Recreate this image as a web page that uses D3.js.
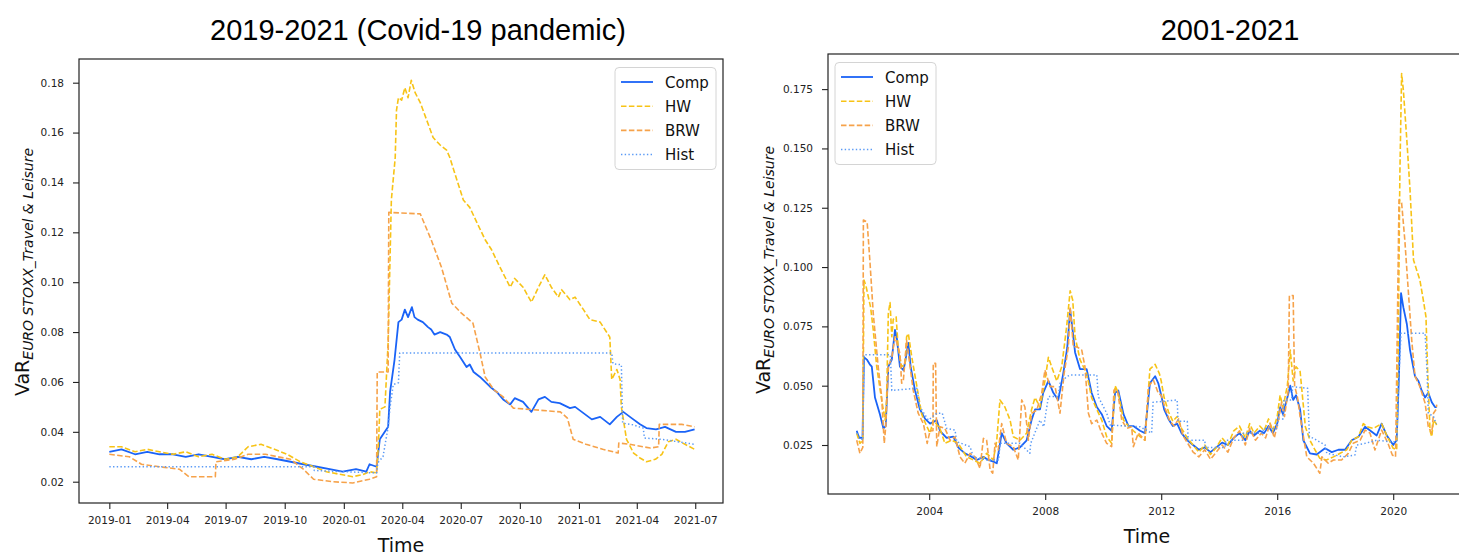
<!DOCTYPE html>
<html>
<head>
<meta charset="utf-8">
<script src="https://cdn.jsdelivr.net/npm/d3@7"></script>
<style>
  body { margin: 0; background: #fff; }
  text { font-family: "DejaVu Sans", sans-serif; }
</style>
</head>
<body>
<svg width="1459" height="555"></svg>
<script>
const seriesNames = ["Comp", "HW", "BRW", "Hist"];

// ---- 2019-2021 panel (dates, VaR) ----
const covidComp = [
  ["2019-01-01",0.032],["2019-01-20",0.033],["2019-02-10",0.031],["2019-03-01",0.032],["2019-03-20",0.031],
  ["2019-04-10",0.031],["2019-04-30",0.030],["2019-05-20",0.031],["2019-06-10",0.030],["2019-06-30",0.029],
  ["2019-07-20",0.030],["2019-08-10",0.029],["2019-08-30",0.030],["2019-09-20",0.029],["2019-10-10",0.028],
  ["2019-10-30",0.027],["2019-11-20",0.026],["2019-12-10",0.025],["2019-12-30",0.024],["2020-01-20",0.025],
  ["2020-02-05",0.024],["2020-02-10",0.027],["2020-02-21",0.026],["2020-02-26",0.037],["2020-03-10",0.042],
  ["2020-03-13",0.056],["2020-03-20",0.069],["2020-03-26",0.084],["2020-03-31",0.085],["2020-04-05",0.089],
  ["2020-04-10",0.086],["2020-04-16",0.090],["2020-04-20",0.086],["2020-04-25",0.085],["2020-05-03",0.084],
  ["2020-05-11",0.082],["2020-05-16",0.081],["2020-05-21",0.079],["2020-05-30",0.080],["2020-06-09",0.079],
  ["2020-06-14",0.078],["2020-06-22",0.073],["2020-06-30",0.070],["2020-07-10",0.066],["2020-07-15",0.067],
  ["2020-07-21",0.064],["2020-07-31",0.062],["2020-08-08",0.060],["2020-08-16",0.058],["2020-08-26",0.056],
  ["2020-09-05",0.053],["2020-09-16",0.051],["2020-09-23",0.0535],["2020-10-06",0.052],["2020-10-19",0.048],
  ["2020-10-30",0.053],["2020-11-09",0.054],["2020-11-19",0.052],["2020-12-02",0.0515],["2020-12-18",0.0495],
  ["2020-12-26",0.050],["2021-01-08",0.0475],["2021-01-21",0.045],["2021-02-03",0.046],["2021-02-18",0.043],
  ["2021-03-01",0.046],["2021-03-11",0.048],["2021-03-24",0.0455],["2021-04-06",0.043],["2021-04-16",0.0415],
  ["2021-05-01",0.041],["2021-05-15",0.042],["2021-06-01",0.040],["2021-06-15",0.040],["2021-06-30",0.041]
];
const covidHW = [
  ["2019-01-01",0.034],["2019-01-20",0.034],["2019-02-10",0.032],["2019-03-01",0.033],["2019-03-20",0.032],
  ["2019-04-10",0.031],["2019-04-30",0.032],["2019-05-20",0.030],["2019-06-10",0.031],["2019-06-30",0.029],
  ["2019-07-20",0.030],["2019-08-05",0.034],["2019-08-25",0.035],["2019-09-15",0.033],["2019-10-05",0.031],
  ["2019-10-25",0.028],["2019-11-15",0.026],["2019-12-05",0.024],["2019-12-25",0.023],["2020-01-15",0.022],
  ["2020-02-01",0.023],["2020-02-10",0.024],["2020-02-21",0.0235],["2020-02-24",0.0355],["2020-02-26",0.049],
  ["2020-03-05",0.050],["2020-03-10",0.076],["2020-03-15",0.133],["2020-03-21",0.150],["2020-03-23",0.169],
  ["2020-03-26",0.174],["2020-03-31",0.173],["2020-04-05",0.178],["2020-04-10",0.174],["2020-04-15",0.181],
  ["2020-04-21",0.176],["2020-04-29",0.172],["2020-05-09",0.165],["2020-05-19",0.158],["2020-05-30",0.155],
  ["2020-06-09",0.153],["2020-06-14",0.150],["2020-06-25",0.141],["2020-07-05",0.133],["2020-07-15",0.130],
  ["2020-07-26",0.124],["2020-08-08",0.117],["2020-08-18",0.113],["2020-08-31",0.106],["2020-09-16",0.098],
  ["2020-09-23",0.1015],["2020-10-06",0.098],["2020-10-19",0.092],["2020-10-30",0.098],["2020-11-09",0.103],
  ["2020-11-19",0.098],["2020-11-30",0.094],["2020-12-05",0.097],["2020-12-18",0.093],["2020-12-26",0.094],
  ["2021-01-08",0.089],["2021-01-18",0.085],["2021-02-03",0.084],["2021-02-18",0.078],["2021-02-21",0.061],
  ["2021-03-01",0.065],["2021-03-06",0.061],["2021-03-08",0.050],["2021-03-16",0.037],["2021-03-27",0.0315],
  ["2021-04-06",0.0295],["2021-04-16",0.028],["2021-04-30",0.029],["2021-05-10",0.031],["2021-05-20",0.036],
  ["2021-06-01",0.037],["2021-06-15",0.035],["2021-06-30",0.033]
];
const covidBRW = [
  ["2019-01-01",0.031],["2019-02-01",0.030],["2019-02-20",0.027],["2019-03-20",0.026],["2019-04-20",0.025],
  ["2019-05-05",0.022],["2019-06-15",0.022],["2019-06-16",0.028],["2019-07-15",0.029],["2019-08-05",0.031],
  ["2019-09-01",0.031],["2019-09-20",0.030],["2019-10-10",0.029],["2019-10-30",0.025],["2019-11-15",0.021],
  ["2019-12-15",0.020],["2020-01-15",0.0195],["2020-02-10",0.021],["2020-02-21",0.022],["2020-02-22",0.064],
  ["2020-03-10",0.064],["2020-03-11",0.128],["2020-04-29",0.1274],["2020-05-16",0.117],["2020-06-01",0.106],
  ["2020-06-17",0.0916],["2020-07-02",0.0876],["2020-07-20",0.0836],["2020-07-31",0.0716],["2020-08-08",0.062],
  ["2020-08-21",0.057],["2020-09-05",0.054],["2020-09-21",0.0495],["2020-12-03",0.048],["2020-12-14",0.0455],
  ["2020-12-23",0.037],["2021-01-12",0.035],["2021-02-07",0.033],["2021-03-03",0.0315],["2021-03-04",0.0355],
  ["2021-03-21",0.035],["2021-04-22",0.0335],["2021-05-05",0.034],["2021-05-06",0.043],["2021-06-10",0.043],
  ["2021-06-30",0.042]
];
const covidHist = [
  ["2019-01-01",0.026],["2019-11-15",0.026],["2019-11-16",0.0245],["2020-02-21",0.0235],["2020-02-23",0.0276],
  ["2020-03-02",0.030],["2020-03-10",0.042],["2020-03-13",0.050],["2020-03-18",0.059],["2020-03-26",0.0597],
  ["2020-03-28",0.0716],["2021-02-21",0.0716],["2021-02-23",0.0673],["2021-03-08",0.0669],["2021-03-10",0.0435],
  ["2021-03-26",0.0428],["2021-04-11",0.0415],["2021-04-13",0.0375],["2021-05-10",0.037],["2021-06-30",0.035]
];

// ---- 2001-2021 panel (decimal year, VaR) ----
const fullComp = [
  [2001.50,0.031],[2001.58,0.028],[2001.70,0.028],[2001.75,0.062],[2001.85,0.061],[2001.95,0.059],[2002.02,0.058],
  [2002.13,0.045],[2002.30,0.038],[2002.42,0.032],[2002.50,0.033],[2002.59,0.058],[2002.71,0.061],[2002.82,0.0735],
  [2002.88,0.0706],[2002.99,0.058],[2003.11,0.0566],[2003.17,0.060],[2003.28,0.068],[2003.36,0.058],[2003.51,0.048],
  [2003.68,0.040],[2003.86,0.036],[2004.03,0.034],[2004.26,0.0355],[2004.37,0.031],[2004.60,0.028],[2004.83,0.0285],
  [2005.00,0.024],[2005.23,0.0215],[2005.47,0.020],[2005.64,0.0187],[2005.87,0.020],[2006.04,0.0187],[2006.21,0.018],
  [2006.33,0.0173],[2006.50,0.030],[2006.67,0.0257],[2006.90,0.023],[2007.13,0.024],[2007.36,0.027],[2007.53,0.0355],
  [2007.65,0.040],[2007.82,0.040],[2007.93,0.047],[2008.11,0.052],[2008.28,0.047],[2008.45,0.044],[2008.62,0.055],
  [2008.76,0.066],[2008.86,0.082],[2008.93,0.075],[2009.03,0.064],[2009.20,0.057],[2009.43,0.057],[2009.60,0.047],
  [2009.78,0.041],[2009.95,0.038],[2010.12,0.033],[2010.29,0.031],[2010.41,0.047],[2010.52,0.048],[2010.70,0.038],
  [2010.87,0.033],[2011.04,0.033],[2011.27,0.031],[2011.44,0.030],[2011.61,0.051],[2011.79,0.054],[2011.90,0.051],
  [2012.00,0.046],[2012.10,0.040],[2012.25,0.036],[2012.40,0.033],[2012.55,0.034],[2012.70,0.030],[2012.90,0.027],
  [2013.10,0.025],[2013.30,0.023],[2013.50,0.024],[2013.70,0.022],[2013.90,0.024],[2014.10,0.026],[2014.30,0.025],
  [2014.50,0.028],[2014.70,0.030],[2014.90,0.027],[2015.05,0.031],[2015.20,0.029],[2015.40,0.031],[2015.55,0.030],
  [2015.70,0.033],[2015.85,0.030],[2016.00,0.034],[2016.10,0.041],[2016.20,0.038],[2016.35,0.045],[2016.45,0.050],
  [2016.55,0.044],[2016.65,0.046],[2016.79,0.040],[2016.90,0.027],[2017.13,0.0215],[2017.36,0.021],[2017.65,0.0236],
  [2017.88,0.022],[2018.11,0.023],[2018.34,0.023],[2018.57,0.027],[2018.80,0.0285],[2019.03,0.0327],[2019.26,0.0306],
  [2019.43,0.029],[2019.60,0.034],[2019.78,0.029],[2020.00,0.025],[2020.12,0.027],[2020.20,0.055],[2020.27,0.089],
  [2020.35,0.083],[2020.47,0.076],[2020.58,0.065],[2020.75,0.054],[2020.87,0.052],[2020.98,0.048],[2021.10,0.045],
  [2021.21,0.047],[2021.33,0.043],[2021.44,0.041],[2021.50,0.041]
];
const fullHW = [
  [2001.50,0.030],[2001.61,0.0257],[2001.71,0.027],[2001.75,0.0945],[2001.82,0.092],[2001.90,0.0875],[2001.98,0.083],
  [2002.07,0.0735],[2002.19,0.058],[2002.36,0.044],[2002.48,0.0355],[2002.53,0.044],[2002.59,0.0805],[2002.65,0.085],
  [2002.71,0.0706],[2002.76,0.078],[2002.86,0.079],[2002.93,0.066],[2003.05,0.058],[2003.17,0.059],[2003.22,0.0706],
  [2003.28,0.072],[2003.40,0.062],[2003.57,0.050],[2003.74,0.038],[2003.91,0.033],[2004.03,0.030],[2004.14,0.0355],
  [2004.37,0.032],[2004.54,0.0257],[2004.78,0.027],[2005.00,0.0257],[2005.29,0.020],[2005.52,0.0187],[2005.75,0.0173],
  [2005.98,0.0215],[2006.21,0.0187],[2006.33,0.027],[2006.44,0.044],[2006.61,0.041],[2006.79,0.0355],[2006.90,0.0285],
  [2007.13,0.027],[2007.36,0.030],[2007.53,0.040],[2007.65,0.045],[2007.82,0.041],[2007.99,0.052],[2008.11,0.062],
  [2008.22,0.058],[2008.40,0.052],[2008.57,0.058],[2008.74,0.075],[2008.86,0.090],[2008.95,0.086],[2009.03,0.0706],
  [2009.20,0.061],[2009.43,0.055],[2009.60,0.045],[2009.78,0.040],[2009.95,0.0355],[2010.12,0.0285],[2010.29,0.0257],
  [2010.41,0.050],[2010.52,0.047],[2010.70,0.0355],[2010.87,0.033],[2011.04,0.031],[2011.27,0.0285],[2011.44,0.027],
  [2011.61,0.057],[2011.79,0.059],[2011.94,0.055],[2012.00,0.052],[2012.10,0.045],[2012.25,0.039],[2012.40,0.035],
  [2012.55,0.037],[2012.70,0.032],[2012.90,0.028],[2013.10,0.025],[2013.30,0.022],[2013.50,0.025],[2013.70,0.021],
  [2013.90,0.024],[2014.10,0.028],[2014.30,0.025],[2014.50,0.031],[2014.70,0.033],[2014.90,0.028],[2015.05,0.034],
  [2015.20,0.030],[2015.40,0.033],[2015.55,0.031],[2015.70,0.036],[2015.85,0.031],[2016.00,0.037],[2016.10,0.046],
  [2016.20,0.041],[2016.35,0.050],[2016.45,0.065],[2016.55,0.052],[2016.65,0.058],[2016.79,0.056],[2016.97,0.0327],
  [2017.13,0.027],[2017.30,0.023],[2017.47,0.0194],[2017.70,0.0187],[2017.94,0.020],[2018.17,0.0215],[2018.40,0.023],
  [2018.57,0.027],[2018.80,0.0285],[2018.97,0.034],[2019.09,0.0327],[2019.32,0.032],[2019.60,0.034],[2019.78,0.029],
  [2020.00,0.0236],[2020.12,0.023],[2020.17,0.062],[2020.23,0.1395],[2020.29,0.1816],[2020.35,0.1746],[2020.47,0.1535],
  [2020.58,0.1325],[2020.70,0.103],[2020.81,0.0987],[2020.92,0.0945],[2021.04,0.086],[2021.13,0.079],[2021.19,0.055],
  [2021.27,0.031],[2021.33,0.0285],[2021.39,0.0355],[2021.48,0.034],[2021.50,0.033]
];
const fullBRW = [
  [2001.50,0.027],[2001.61,0.0215],[2001.71,0.024],[2001.73,0.1198],[2001.86,0.119],[2001.96,0.1016],[2002.07,0.0805],
  [2002.24,0.058],[2002.36,0.0454],[2002.45,0.0257],[2002.50,0.0327],[2002.59,0.058],[2002.71,0.062],[2002.82,0.0706],
  [2002.99,0.0636],[2003.05,0.051],[2003.11,0.0524],[2003.22,0.069],[2003.34,0.058],[2003.45,0.048],[2003.62,0.0384],
  [2003.80,0.034],[2003.93,0.0257],[2004.03,0.031],[2004.13,0.031],[2004.14,0.0594],[2004.22,0.0594],[2004.26,0.0243],
  [2004.37,0.0327],[2004.54,0.032],[2004.72,0.027],[2004.89,0.0285],[2005.06,0.020],[2005.23,0.0173],[2005.41,0.0215],
  [2005.58,0.020],[2005.75,0.0152],[2005.87,0.0278],[2005.98,0.027],[2006.10,0.0145],[2006.19,0.0131],[2006.27,0.0257],
  [2006.38,0.0229],[2006.50,0.034],[2006.67,0.0257],[2006.90,0.0243],[2007.07,0.0187],[2007.19,0.044],[2007.30,0.041],
  [2007.42,0.027],[2007.53,0.0384],[2007.71,0.0397],[2007.88,0.0468],[2007.99,0.0566],[2008.17,0.0496],[2008.34,0.0496],
  [2008.51,0.0384],[2008.65,0.055],[2008.80,0.0664],[2008.86,0.0833],[2008.97,0.0664],[2009.09,0.0664],[2009.26,0.065],
  [2009.37,0.058],[2009.49,0.0384],[2009.60,0.034],[2009.78,0.0355],[2009.95,0.030],[2010.12,0.0257],[2010.29,0.0243],
  [2010.37,0.0482],[2010.49,0.0482],[2010.64,0.0355],[2010.81,0.032],[2010.98,0.0327],[2011.04,0.0243],[2011.21,0.030],
  [2011.44,0.027],[2011.56,0.0496],[2011.73,0.0524],[2011.90,0.0468],[2012.00,0.046],[2012.15,0.040],[2012.30,0.035],
  [2012.45,0.033],[2012.60,0.036],[2012.75,0.029],[2012.90,0.026],[2013.10,0.022],[2013.30,0.020],[2013.50,0.023],
  [2013.70,0.019],[2013.90,0.022],[2014.10,0.025],[2014.30,0.022],[2014.50,0.028],[2014.70,0.031],[2014.90,0.025],
  [2015.05,0.032],[2015.25,0.027],[2015.45,0.030],[2015.60,0.028],[2015.75,0.034],[2015.90,0.028],[2016.05,0.036],
  [2016.15,0.043],[2016.25,0.037],[2016.38,0.048],[2016.42,0.088],[2016.55,0.088],[2016.60,0.050],[2016.70,0.045],
  [2016.79,0.037],[2017.02,0.020],[2017.25,0.0173],[2017.47,0.0131],[2017.54,0.020],[2017.76,0.0173],[2017.94,0.0187],
  [2018.22,0.0187],[2018.45,0.0215],[2018.62,0.0257],[2018.86,0.027],[2019.03,0.0313],[2019.20,0.030],[2019.37,0.0229],
  [2019.60,0.0313],[2019.82,0.0257],[2019.97,0.0208],[2020.08,0.020],[2020.13,0.0636],[2020.20,0.1283],[2020.29,0.127],
  [2020.40,0.1114],[2020.52,0.090],[2020.64,0.069],[2020.75,0.054],[2020.92,0.0496],[2021.10,0.0426],[2021.21,0.0327],
  [2021.33,0.030],[2021.39,0.0384],[2021.48,0.040],[2021.50,0.042]
];
const fullHist = [
  [2001.50,0.030],[2001.71,0.027],[2001.75,0.063],[2002.66,0.063],[2002.71,0.048],[2003.57,0.0489],[2003.68,0.041],
  [2003.97,0.0355],[2004.26,0.0384],[2004.45,0.0384],[2004.60,0.032],[2004.89,0.0313],[2004.95,0.0264],[2005.41,0.0243],
  [2005.52,0.020],[2005.98,0.0187],[2006.40,0.0187],[2006.44,0.0257],[2007.13,0.0257],[2007.47,0.0215],[2007.50,0.0257],
  [2007.82,0.0355],[2007.95,0.0327],[2008.11,0.0454],[2008.45,0.0454],[2008.51,0.051],[2008.74,0.0538],[2008.86,0.0545],
  [2009.78,0.0545],[2009.83,0.0454],[2010.12,0.0384],[2010.24,0.0334],[2011.27,0.0327],[2011.67,0.030],[2011.72,0.043],
  [2012.55,0.044],[2012.58,0.035],[2012.90,0.035],[2012.93,0.027],[2013.50,0.027],[2013.53,0.024],[2014.20,0.024],
  [2014.23,0.027],[2014.80,0.027],[2014.83,0.030],[2015.50,0.030],[2015.53,0.032],[2016.00,0.032],[2016.03,0.036],
  [2016.20,0.036],[2016.23,0.044],[2016.50,0.044],[2016.53,0.0496],[2017.05,0.0489],[2017.11,0.0285],[2017.25,0.0278],
  [2017.65,0.025],[2017.71,0.0215],[2018.28,0.020],[2018.68,0.0208],[2018.74,0.025],[2019.03,0.0257],[2019.43,0.027],
  [2019.89,0.0264],[2020.12,0.0264],[2020.20,0.0552],[2020.27,0.0721],[2021.10,0.0721],[2021.17,0.0552],[2021.21,0.0384],
  [2021.39,0.037],[2021.48,0.0341],[2021.50,0.034]
];

const covidXTicks = ["2019-01","2019-04","2019-07","2019-10","2020-01","2020-04","2020-07","2020-10","2021-01","2021-04","2021-07"];
const covidYTicks = [0.02, 0.04, 0.06, 0.08, 0.10, 0.12, 0.14, 0.16, 0.18];
const fullXTicks = [2004, 2008, 2012, 2016, 2020];
const fullYTicks = [0.025, 0.050, 0.075, 0.100, 0.125, 0.150, 0.175];

const styles = {
  Comp: { color: "#1a63f7", width: 1.8, dash: null },
  HW:   { color: "#f7c316", width: 1.6, dash: "5.5,2.4" },
  BRW:  { color: "#f6a24a", width: 1.6, dash: "5.5,2.4" },
  Hist: { color: "#5a9af6", width: 1.5, dash: "1.4,2.3" }
};

const svg = d3.select("svg");
const parse = d3.utcParse("%Y-%m-%d");

function drawPanel(p) {
  const g = svg.append("g");
  const clipId = "clip-" + p.id;
  svg.append("clipPath").attr("id", clipId)
    .append("rect")
    .attr("x", p.left).attr("y", p.top)
    .attr("width", p.right - p.left).attr("height", p.bottom - p.top);

  const line = d3.line().x(d => p.x(d[0])).y(d => p.y(d[1]));
  const lines = g.append("g").attr("clip-path", `url(#${clipId})`);
  seriesNames.forEach((name, i) => {
    const s = styles[name];
    lines.append("path")
      .datum(p.data[i])
      .attr("fill", "none")
      .attr("stroke", s.color)
      .attr("stroke-width", s.width)
      .attr("stroke-dasharray", s.dash)
      .attr("stroke-linejoin", "round")
      .attr("d", line);
  });

  // frame
  g.append("rect")
    .attr("x", p.left).attr("y", p.top)
    .attr("width", p.right - p.left).attr("height", p.bottom - p.top)
    .attr("fill", "none").attr("stroke", "#222").attr("stroke-width", 1.2);

  const xAxis = g.append("g")
    .attr("transform", `translate(0,${p.bottom})`)
    .call(d3.axisBottom(p.x).tickValues(p.xTicks).tickFormat(p.xFormat).tickSize(6).tickPadding(8));
  const yAxis = g.append("g")
    .attr("transform", `translate(${p.left},0)`)
    .call(d3.axisLeft(p.y).tickValues(p.yTicks).tickFormat(p.yFormat).tickSize(6).tickPadding(9));
  [xAxis, yAxis].forEach(a => {
    a.select(".domain").remove();
    a.selectAll(".tick line").attr("stroke", "#222").attr("stroke-width", 1.1);
    a.selectAll(".tick text").attr("fill", "#222").style("font-size", "10.5px")
      .style("font-family", "DejaVu Sans, sans-serif");
  });

  // axis labels
  g.append("text")
    .attr("x", (p.left + p.right) / 2).attr("y", p.bottom + 49)
    .attr("text-anchor", "middle").style("font-size", "19px").attr("fill", "#111")
    .text("Time");

  const yl = g.append("text")
    .attr("transform", `translate(${p.yLabelX},${p.yLabelY}) rotate(-90)`)
    .attr("text-anchor", "middle").attr("fill", "#111");
  yl.append("tspan").style("font-size", "19px").text("VaR");
  yl.append("tspan").style("font-size", "14px").style("font-style", "italic")
    .attr("dy", 4).text("EURO STOXX_Travel & Leisure");

  // title
  svg.append("text")
    .attr("x", p.titleX).attr("y", 40)
    .attr("text-anchor", "middle")
    .style("font-family", "Liberation Sans, Arial, sans-serif")
    .style("font-size", "29px").attr("fill", "#000")
    .text(p.title);

  // legend
  const lg = g.append("g");
  lg.append("rect")
    .attr("x", p.legend.x).attr("y", p.legend.y)
    .attr("width", 101).attr("height", 102).attr("rx", 4)
    .attr("fill", "#fff").attr("fill-opacity", 0.8)
    .attr("stroke", "#d4d4d4").attr("stroke-width", 1);
  seriesNames.forEach((name, i) => {
    const s = styles[name];
    const cy = p.legend.y + 14.5 + i * 24.2;
    lg.append("line")
      .attr("x1", p.legend.x + 6).attr("x2", p.legend.x + 38)
      .attr("y1", cy).attr("y2", cy)
      .attr("stroke", s.color).attr("stroke-width", s.width)
      .attr("stroke-dasharray", s.dash);
    lg.append("text")
      .attr("x", p.legend.x + 50).attr("y", cy + 5.5)
      .style("font-size", "15px").attr("fill", "#111")
      .text(name);
  });
}

// left panel
drawPanel({
  id: "covid",
  left: 79, right: 723, top: 59, bottom: 503,
  x: d3.scaleUtc()
    .domain([Date.UTC(2018, 10, 14, 19), Date.UTC(2021, 7, 13, 5)])
    .range([79, 723]),
  y: d3.scaleLinear().domain([0.01146, 0.1895]).range([503, 59]),
  data: [covidComp, covidHW, covidBRW, covidHist].map(s => s.map(d => [parse(d[0]), d[1]])),
  xTicks: covidXTicks.map(t => parse(t + "-01")),
  xFormat: d3.utcFormat("%Y-%m"),
  yTicks: covidYTicks,
  yFormat: d3.format(".2f"),
  yLabelX: 29, yLabelY: 272,
  title: "2019-2021 (Covid-19 pandemic)", titleX: 418,
  legend: { x: 615, y: 67.5 }
});

// right panel
drawPanel({
  id: "full",
  left: 828, right: 1466, top: 54, bottom: 494,
  x: d3.scaleLinear().domain([2000.51, 2022.51]).range([828, 1466]),
  y: d3.scaleLinear().domain([0.00435, 0.1898]).range([494, 54]),
  data: [fullComp, fullHW, fullBRW, fullHist],
  xTicks: fullXTicks,
  xFormat: d3.format("d"),
  yTicks: fullYTicks,
  yFormat: d3.format(".3f"),
  yLabelX: 770, yLabelY: 270,
  title: "2001-2021", titleX: 1230,
  legend: { x: 835, y: 62.5 }
});
</script>
</body>
</html>
